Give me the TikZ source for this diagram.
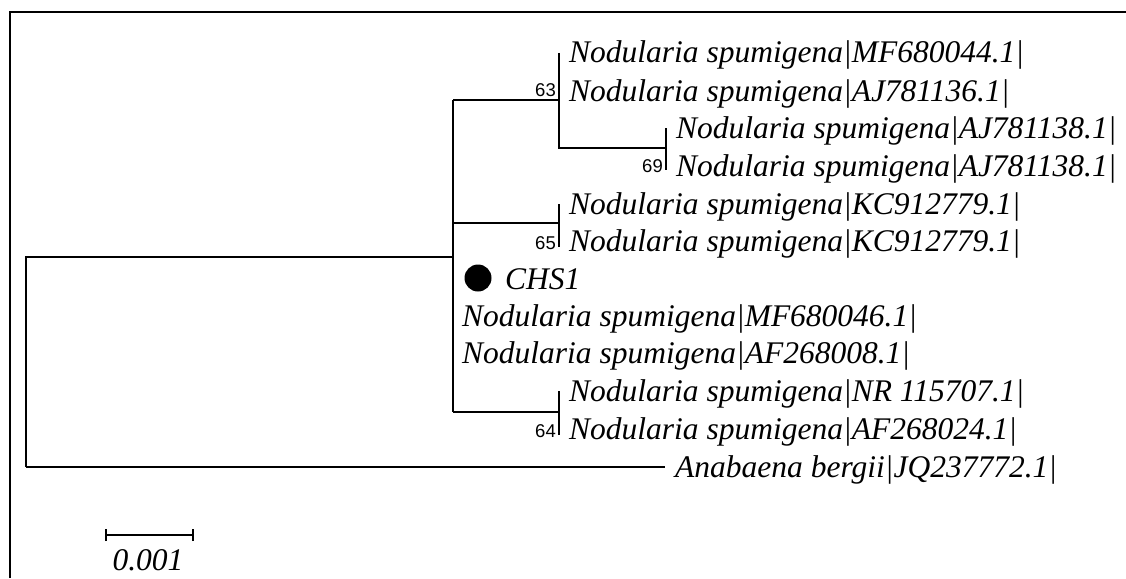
\documentclass[tikz,border=0pt]{standalone}
\usepackage{fontspec}
\setmainfont{Liberation Serif}
\newfontfamily\bsfont{Liberation Sans}
\begin{document}
\begin{tikzpicture}[x=1pt,y=-1pt,
  br/.style={line width=1.4pt},
  leaf/.style={anchor=base west,inner sep=0pt,font=\fontsize{31.5}{36}\selectfont\itshape},
  boot/.style={anchor=east,inner sep=0pt,font=\fontsize{18.5}{20}\selectfont\bsfont}]
\useasboundingbox (0,0) rectangle (1126,578);
\draw[line width=2.2pt] (10,578) -- (10,12) -- (1126,12);
% internal nodes
\coordinate (root) at (26,257);
\coordinate (rootb) at (26,467);
\coordinate (ing) at (453,257);
\coordinate (ingt) at (453,100);
\coordinate (ingb) at (453,412);
\coordinate (c63) at (559,100);
\coordinate (c63t) at (559,53);
\coordinate (c63b) at (559,148);
\coordinate (c69) at (666,148);
\coordinate (c69t) at (666,128);
\coordinate (c69b) at (666,170);
\coordinate (ing65) at (453,223);
\coordinate (c65) at (559,223);
\coordinate (c65t) at (559,204);
\coordinate (c65b) at (559,247);
\coordinate (c64) at (559,412);
\coordinate (c64t) at (559,391);
\coordinate (c64b) at (559,435);
\coordinate (out) at (665,467);
% branches
\draw[br] (rootb) -- (root) -- (ing);
\draw[br] (rootb) -- (out);
\draw[br] (ingt) -- (ingb);
\draw[br] (ingt) -- (c63);
\draw[br] (c63t) -- (c63b) -- (c69);
\draw[br] (c69t) -- (c69b);
\draw[br] (ing65) -- (c65);
\draw[br] (c65t) -- (c65b);
\draw[br] (ingb) -- (c64);
\draw[br] (c64t) -- (c64b);
% leaves
\node[leaf] (l1) at (569,63) {Nodularia spumigena|MF680044.1|};
\node[leaf] (l2) at (569,101) {Nodularia spumigena|AJ781136.1|};
\node[leaf] (l3) at (676,138) {Nodularia spumigena|AJ781138.1|};
\node[leaf] (l4) at (676,176) {Nodularia spumigena|AJ781138.1|};
\node[leaf] (l5) at (569,214) {Nodularia spumigena|KC912779.1|};
\node[leaf] (l6) at (569,251) {Nodularia spumigena|KC912779.1|};
\fill (478,278) circle (13.5pt) coordinate (dot);
\node[leaf] (l7) at (505,289) {CHS1};
\node[leaf] (l8) at (462,326) {Nodularia spumigena|MF680046.1|};
\node[leaf] (l9) at (462,363) {Nodularia spumigena|AF268008.1|};
\node[leaf] (l10) at (569,401) {Nodularia spumigena|NR 115707.1|};
\node[leaf] (l11) at (569,439) {Nodularia spumigena|AF268024.1|};
\node[leaf] (l12) at (675,477) {Anabaena bergii|JQ237772.1|};
% bootstrap
\node[boot] at (556,90) {63};
\node[boot] at (663,166) {69};
\node[boot] at (556,243) {65};
\node[boot] at (556,431) {64};
% scale bar
\coordinate (sb1) at (106,535);
\coordinate (sb2) at (193,535);
\draw[br] (sb1) -- (sb2);
\draw[br] ([yshift=-6]sb1) -- ([yshift=6]sb1);
\draw[br] ([yshift=-6]sb2) -- ([yshift=6]sb2);
\node[anchor=base,inner sep=0pt,font=\fontsize{31.5}{36}\selectfont\itshape] (sbl) at (148,570) {0.001};
\end{tikzpicture}
\end{document}
